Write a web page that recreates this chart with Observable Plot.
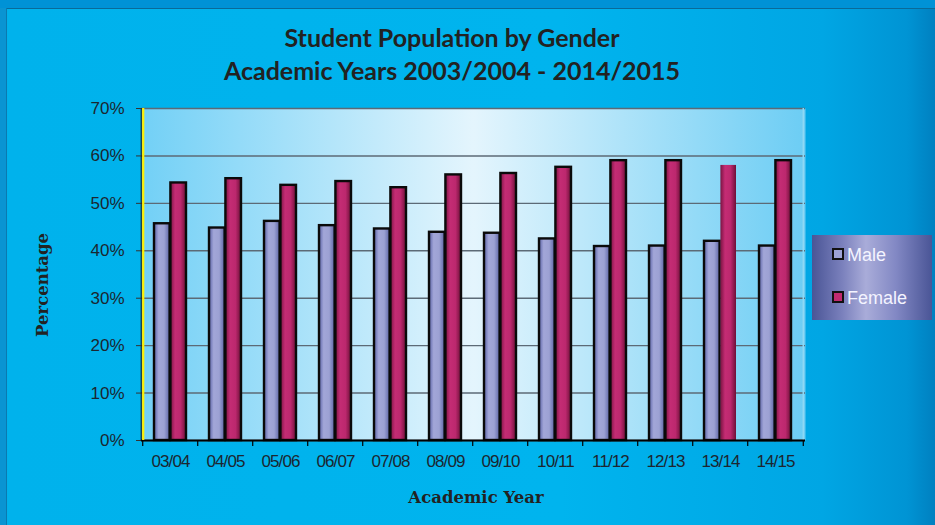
<!DOCTYPE html>
<html>
<head>
<meta charset="utf-8">
<script src="https://cdn.jsdelivr.net/npm/d3@7"></script>
<script src="https://cdn.jsdelivr.net/npm/@observablehq/plot@0.6"></script>
<style>
  html, body { margin: 0; padding: 0; }
  body { width: 935px; height: 525px; overflow: hidden; }
  #wrap {
    position: relative; width: 935px; height: 525px; overflow: hidden;
    background: linear-gradient(90deg, #0a9ad8 0px, #00b2ec 8px, #00b4ee 60%, #00a6e4 88%, #0094d4 97%, #0080c0 100%);
  }
  #topstrip { position: absolute; left: 0; top: 0; width: 935px; height: 8px; background: #0092d6; border-bottom: 1px solid #0a6a98; }
  #leftstrip { position: absolute; left: 0; top: 8px; width: 6px; height: 517px; background: #0a94d2; border-right: 1px solid #0a7ab0; }
  #title {
    position: absolute; left: 0; width: 904px; top: 21px; text-align: center;
    font-family: Lato, "Open Sans", sans-serif; font-weight: 700; font-size: 25px;
    line-height: 33px; color: #222;
  }
  #chart { position: absolute; left: 0; top: 0; }
  #chart g[aria-label="x-axis tick label"] text { letter-spacing: -0.9px; }
  #ylab {
    position: absolute; left: 42px; top: 285px; transform: translate(-50%, -50%) rotate(-90deg);
    font-family: "DejaVu Serif", "Liberation Serif", serif; font-weight: 700; font-size: 16.5px; color: #222; white-space: nowrap;
  }
  #xlab {
    position: absolute; left: 476px; top: 497px; transform: translate(-50%, -50%);
    font-family: "DejaVu Serif", "Liberation Serif", serif; font-weight: 700; font-size: 16.5px; color: #222; white-space: nowrap;
  }
  #legend {
    position: absolute; left: 812px; top: 235px; width: 120px; height: 85px;
    background: linear-gradient(90deg, #4a5596 0%, #7a80bc 25%, #a9acd9 45%, #8288c4 70%, #4a5596 100%);
  }
  .li { position: absolute; left: 20px; font-family: "Liberation Sans", Arial, sans-serif; font-size: 18px; color: #f4f4ff; line-height: 20px; }
  .sw { display: inline-block; width: 8px; height: 8px; border: 2px solid #111; margin-right: 3px; vertical-align: 1px; }
</style>
</head>
<body>
<div id="wrap">
  <div id="topstrip"></div>
  <div id="leftstrip"></div>
  <div id="chart"></div>
  <div id="title">Student Population by Gender<br>Academic Years 2003/2004 - 2014/2015</div>
  <div id="ylab">Percentage</div>
  <div id="xlab">Academic Year</div>
  <div id="legend"></div>
</div>
<script>
const years = ["03/04","04/05","05/06","06/07","07/08","08/09","09/10","10/11","11/12","12/13","13/14","14/15"];
const male   = [45.7, 44.8, 46.2, 45.3, 44.6, 43.9, 43.7, 42.5, 40.9, 41.0, 42.0, 41.0];
const female = [54.3, 55.2, 53.8, 54.6, 53.3, 56.0, 56.3, 57.6, 59.0, 59.0, 58.0, 59.0];
const yTicks = [0, 0.1, 0.2, 0.3, 0.4, 0.5, 0.6, 0.7];
const seriesNames = ["Male", "Female"];
const seriesColors = ["#9ea3d6", "#c02a70"];

const maleData = years.map((year, i) => ({year, value: male[i] / 100}));
const femaleData = years.map((year, i) => ({year, value: female[i] / 100, border: years[i] !== "13/14"}));

const W = 935, H = 525, mL = 141, mR = 130, mT = 108, mB = 85;
const pInner = 0.41, pOuter = 0.18;
const step = (W - mL - mR) / (years.length - pInner + 2 * pOuter);
const half = step * (1 - pInner) / 2;

const chart = Plot.plot({
  width: W, height: H,
  marginLeft: mL, marginRight: mR, marginTop: mT, marginBottom: mB,
  style: {background: "transparent", overflow: "visible"},
  x: {domain: years, paddingInner: pInner, paddingOuter: pOuter, label: null},
  y: {domain: [0, 0.7], label: null},
  marks: [
    Plot.frame({fill: "url(#plotbg)", stroke: null}),
    Plot.gridY(yTicks, {stroke: "#5c6a76", strokeOpacity: 1, strokeWidth: 1.4}),
    Plot.ruleX([years[years.length - 1]], {dx: step / 2, y1: 0, y2: 0.7, stroke: "#8fd8f4", strokeWidth: 1.5}),
    Plot.barY(maleData, {x: "year", y: "value", insetRight: half, fill: "url(#gm)", stroke: "#0a0a0a", strokeWidth: 2.4}),
    Plot.barY(femaleData.filter(d => d.border), {x: "year", y: "value", insetLeft: half, fill: "url(#gf)", stroke: "#0a0a0a", strokeWidth: 2.4}),
    Plot.barY(femaleData.filter(d => !d.border), {x: "year", y: "value", insetLeft: half, fill: "url(#gf)"}),
    Plot.ruleY([0], {stroke: "#000", strokeWidth: 2}),
    Plot.ruleX([years[0]], {dx: -step / 2 - 1.5, y1: 0, y2: 0.7, stroke: "#111", strokeWidth: 1}),
    Plot.ruleX([years[0]], {dx: -step / 2 + 0.5, y1: 0, y2: 0.7, stroke: "#ffee00", strokeWidth: 2.2}),
    Plot.axisY(yTicks, {tickFormat: d3.format(".0%"), tickSize: 5, tickPadding: 12, stroke: "#333",
      fontSize: 17, fontFamily: "Liberation Sans, Arial, sans-serif", fill: "#1c2630", label: null}),
    Plot.axisX({tickSize: 6, text: null, dx: -step / 2, stroke: "#000", strokeWidth: 1.2, label: null}),
    Plot.axisX([years[years.length - 1]], {tickSize: 6, text: null, dx: step / 2, stroke: "#000", strokeWidth: 1.2, label: null}),
    Plot.axisX({tickSize: 0, tickPadding: 14, fontSize: 17, fontFamily: "Liberation Sans, Arial, sans-serif", fill: "#1c2630", label: null})
  ]
});

const defs = `
<defs>
  <linearGradient id="plotbg" x1="0" x2="1" y1="0" y2="0">
    <stop offset="0" stop-color="#72d0f6"/>
    <stop offset="0.5" stop-color="#e4f5fd"/>
    <stop offset="1" stop-color="#6ccdf4"/>
  </linearGradient>
  <linearGradient id="gm" x1="0" x2="1" y1="0" y2="0">
    <stop offset="0" stop-color="#5a62a6"/>
    <stop offset="0.3" stop-color="#a2a6d8"/>
    <stop offset="0.65" stop-color="#9ca1d3"/>
    <stop offset="1" stop-color="#5c64a6"/>
  </linearGradient>
  <linearGradient id="gf" x1="0" x2="1" y1="0" y2="0">
    <stop offset="0" stop-color="#7a1442"/>
    <stop offset="0.3" stop-color="#c42c74"/>
    <stop offset="0.65" stop-color="#bc286e"/>
    <stop offset="1" stop-color="#6e1038"/>
  </linearGradient>
</defs>`;
chart.insertAdjacentHTML("afterbegin", defs);
document.getElementById("chart").appendChild(chart);

const legend = document.getElementById("legend");
seriesNames.forEach((name, i) => {
  const row = document.createElement("div");
  row.className = "li";
  row.style.top = (i === 0 ? 10 : 53) + "px";
  const sw = document.createElement("span");
  sw.className = "sw";
  sw.style.background = seriesColors[i];
  row.appendChild(sw);
  row.appendChild(document.createTextNode(name));
  legend.appendChild(row);
});
</script>
</body>
</html>
